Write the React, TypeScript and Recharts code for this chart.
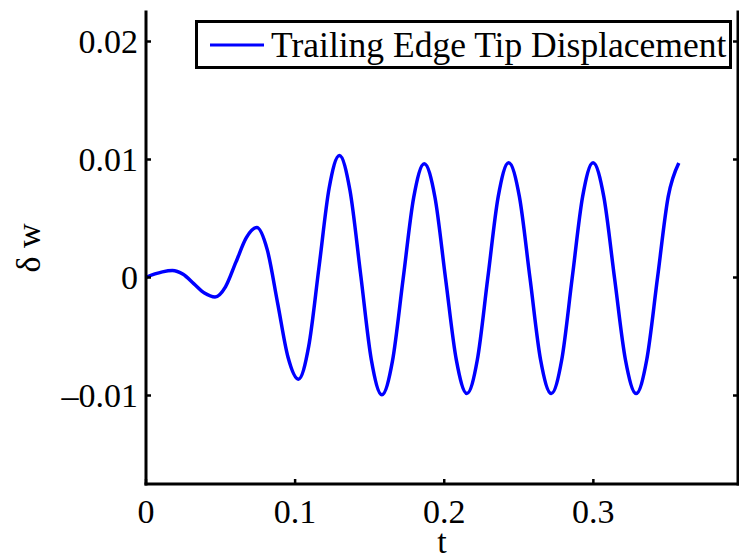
import React from 'react';
import { LineChart, Line, XAxis, YAxis, Legend } from 'recharts';

// time samples
const tValues = [
  0, 0.006, 0.011, 0.0177, 0.0249, 0.032, 0.0392, 0.0463, 0.0533, 0.0603, 0.0673,
  0.0743, 0.0813, 0.0883, 0.0952, 0.1022, 0.1091, 0.116, 0.1228, 0.1297, 0.1368,
  0.144, 0.1511, 0.1582, 0.1653, 0.1724, 0.1795, 0.1866, 0.1938, 0.2009, 0.2081,
  0.2152, 0.2222, 0.2292, 0.2362, 0.2432, 0.2504, 0.2575, 0.2646, 0.2718, 0.2788,
  0.2858, 0.2928, 0.2998, 0.307, 0.3142, 0.3215, 0.3287, 0.3358, 0.343, 0.3502, 0.3573,
];

// trailing edge tip displacement (delta w)
const wValues = [
  0, 0.0003, 0.00048, 0.0006, 0.00027, -0.00052, -0.00132, -0.00165, -0.00079, 0.0013, 0.00338,
  0.00424, 0.00236, -0.00219, -0.00674, -0.00862, -0.00584, 0.00086, 0.00756, 0.01034, 0.00737,
  0.0002, -0.00697, -0.00994, -0.00707, -0.00015, 0.00677, 0.00964, 0.00678, -0.0001, -0.00698,
  -0.00983, -0.00697, -0.00005, 0.00685, 0.00972, 0.00685, -0.00005, -0.00697, -0.00983, -0.00697,
  -0.00005, 0.00685, 0.00972, 0.00685, -0.00005, -0.00697, -0.00983, -0.00697, -0.00005, 0.00685, 0.0097,
];

const xTicks = [0, 0.1, 0.2, 0.3];
const yTicks = [-0.01, 0, 0.01, 0.02];
const xTickLabels = ['0', '0.1', '0.2', '0.3'];
const yTickLabels = ['\u20130.01', '0', '0.01', '0.02'];

const data = tValues.map((t, i) => ({ t, w: wValues[i] }));

const FONT = '"Liberation Serif", "Times New Roman", serif';
const FS = 34;
const TICK = 5;

const BottomTick = ({ x, y, payload }: any) => (
  <g>
    <line x1={x} y1={y} x2={x} y2={y - TICK} stroke="#000" strokeWidth={2.5} />
    <text x={x} y={y + 39} textAnchor="middle" fontFamily={FONT} fontSize={FS} fill="#000">
      {xTickLabels[xTicks.indexOf(payload.value)]}
    </text>
  </g>
);

const TopTick = ({ x, y }: any) => (
  <line x1={x} y1={y} x2={x} y2={y + TICK} stroke="#000" strokeWidth={2.5} />
);

const LeftTick = ({ x, y, payload }: any) => (
  <g>
    <line x1={x} y1={y} x2={x + TICK} y2={y} stroke="#000" strokeWidth={2.5} />
    <text x={x - 8} y={y} dy="0.34em" textAnchor="end" fontFamily={FONT} fontSize={FS} fill="#000">
      {yTickLabels[yTicks.indexOf(payload.value)]}
    </text>
  </g>
);

const RightTick = ({ x, y }: any) => (
  <line x1={x} y1={y} x2={x - TICK} y2={y} stroke="#000" strokeWidth={2.5} />
);

const LegendBox = ({ payload }: any) => {
  const item = payload && payload[0];
  return (
    <div
      style={{
        boxSizing: 'border-box',
        width: 537,
        height: 49,
        border: '3px solid #000',
        background: '#fff',
        display: 'flex',
        alignItems: 'center',
        fontFamily: FONT,
        fontSize: 35.5,
        whiteSpace: 'nowrap',
      }}
    >
      <svg width={64} height={10} style={{ marginLeft: 9, flex: 'none' }}>
        <line x1={3} y1={5} x2={57} y2={5} stroke="#0000ff" strokeWidth={3} />
      </svg>
      <span>{item ? item.value : ''}</span>
    </div>
  );
};

export default function App() {
  const axisLine = { stroke: '#000', strokeWidth: 3, strokeLinecap: 'square' as const };
  return (
    <div style={{ position: 'absolute', left: 0, top: 0, background: '#fff' }}>
      <LineChart width={739} height={559} data={data} margin={{ top: 12, right: 0, bottom: 0, left: 0 }}>
        <XAxis
          dataKey="t"
          type="number"
          domain={[0, 0.397]}
          ticks={xTicks}
          interval={0}
          allowDataOverflow
          height={75}
          tickSize={0}
          tickMargin={0}
          tickLine={false}
          axisLine={axisLine}
          tick={BottomTick}
          label={{
            content: ({ viewBox }: any) => (
              <text
                x={viewBox.x + viewBox.width / 2}
                y={553}
                textAnchor="middle"
                fontFamily={FONT}
                fontSize={FS}
                fill="#000"
              >
                t
              </text>
            ),
          }}
        />
        <XAxis
          xAxisId="top"
          orientation="top"
          dataKey="t"
          type="number"
          domain={[0, 0.397]}
          ticks={xTicks}
          interval={0}
          allowDataOverflow
          height={0}
          tickSize={0}
          tickMargin={0}
          tickLine={false}
          axisLine={axisLine}
          tick={TopTick}
        />
        <YAxis
          type="number"
          domain={[-0.0175, 0.0225]}
          ticks={yTicks}
          interval={0}
          allowDataOverflow
          width={146}
          tickSize={0}
          tickMargin={0}
          tickLine={false}
          axisLine={axisLine}
          tick={LeftTick}
          label={{
            content: ({ viewBox }: any) => {
              const cy = viewBox.y + viewBox.height / 2;
              return (
                <text
                  x={40}
                  y={cy}
                  transform={`rotate(-90 40 ${cy})`}
                  textAnchor="middle"
                  fontFamily={FONT}
                  fontSize={FS}
                  fill="#000"
                >
                  δ w
                </text>
              );
            },
          }}
        />
        <YAxis
          yAxisId="right"
          orientation="right"
          type="number"
          domain={[-0.0175, 0.0225]}
          ticks={yTicks}
          interval={0}
          allowDataOverflow
          width={1}
          tickSize={0}
          tickMargin={0}
          tickLine={false}
          axisLine={axisLine}
          tick={RightTick}
        />
        <Legend
          layout="horizontal"
          verticalAlign="middle"
          align="center"
          wrapperStyle={{ top: 20, left: 195, width: 537, height: 49 }}
          content={LegendBox}
        />
        <Line
          type="monotone"
          dataKey="w"
          name="Trailing Edge Tip Displacement"
          stroke="#0000ff"
          strokeWidth={3.5}
          dot={false}
          isAnimationActive={false}
        />
      </LineChart>
    </div>
  );
}
